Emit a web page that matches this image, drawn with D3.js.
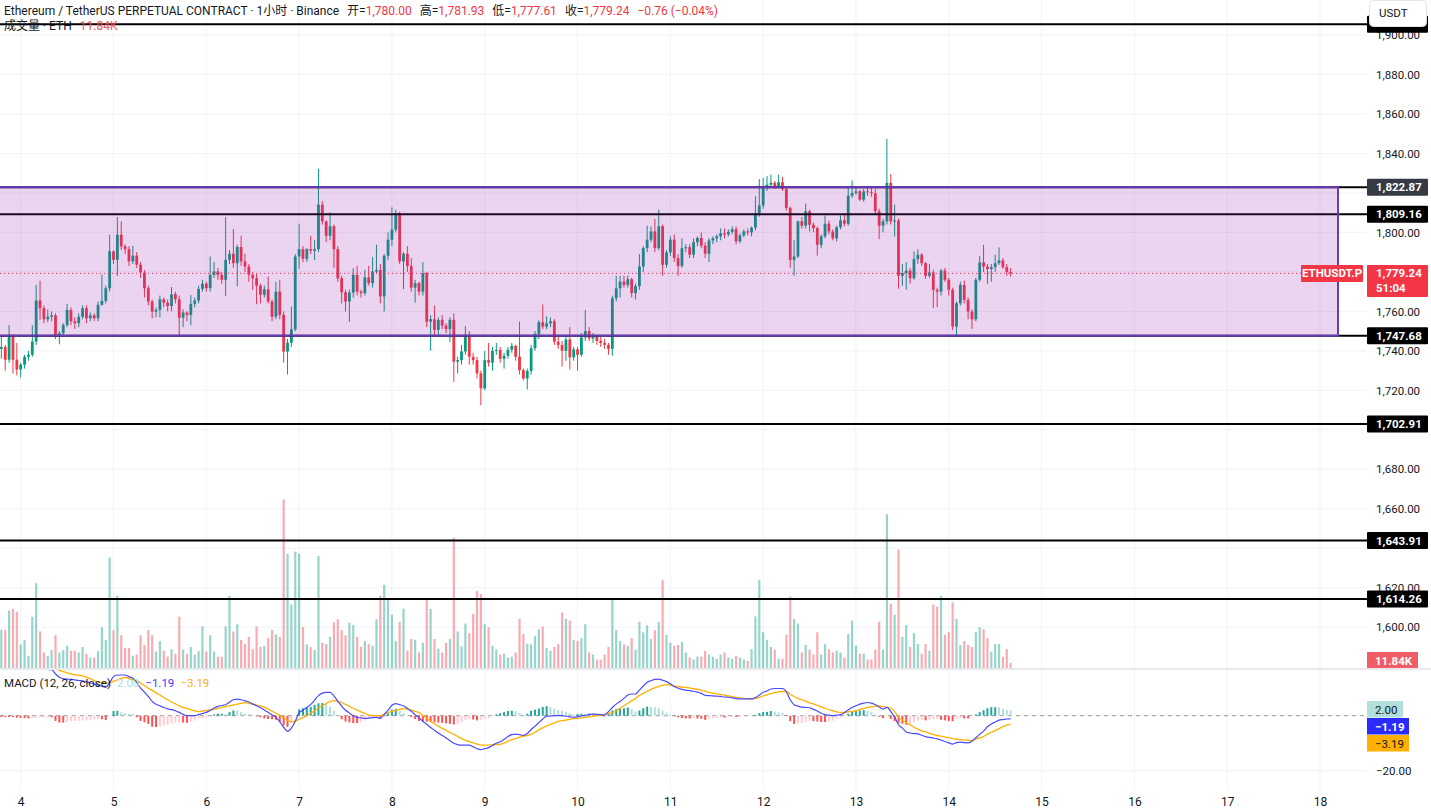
<!DOCTYPE html>
<html><head><meta charset="utf-8">
<script src="https://cdn.jsdelivr.net/npm/d3@7/dist/d3.min.js"></script>
<style>
html,body{margin:0;padding:0;background:#fff;}
svg{display:block;font-family:Roboto,"Noto Sans CJK SC",sans-serif;}
</style></head>
<body>
<svg id="c" width="1431" height="812"></svg>
<script>
// ---------------- DATA ----------------
const dayLabels = ["4","5","6","7","8","9","10","11","12","13","14","15","16","17","18"];
const firstHour = -5; // first candle = day 3, 19:00 (hours relative to day 4 00:00)
// [open, high, low, close] hourly candles
const ohlc = [
[1741,1748,1736,1742],[1742,1743,1730,1735.5],[1735.5,1753,1734,1747.5],[1747.5,1748.5,1728.5,1735.5],
[1735.5,1744,1727.5,1730.5],[1730.5,1734,1726.5,1733],[1733,1738,1731,1737],[1737,1740,1735,1738],
[1738,1753,1737,1744.7],[1744.7,1773.5,1743,1765.5],[1765.5,1775.5,1755.7,1761.6],[1761.6,1763,1754,1756],
[1756,1761,1754.5,1757.3],[1757.3,1760,1755,1758],[1758,1759,1746,1747.2],[1747.2,1750,1743.3,1748.9],
[1748.9,1754,1747,1753.1],[1753.1,1763.8,1752,1760.7],[1760.7,1762,1753,1755],[1755,1757,1751,1754],
[1754,1759,1752,1757.3],[1757.3,1763,1756,1761.6],[1761.6,1763,1754,1756.5],[1756.5,1759.5,1755,1758],
[1758,1759,1755,1756.5],[1756.5,1765,1755,1763.3],[1763.3,1778.5,1763,1765.3],[1765.3,1773,1764,1771.7],
[1771.7,1798.8,1770,1790.4],[1790.4,1791,1784,1786.1],[1786.1,1807.8,1778,1798.8],[1798.8,1805.6,1791,1792.9],
[1792.9,1794,1789,1791.5],[1791.5,1793,1783,1785.3],[1785.3,1793.2,1784,1788.2],[1788.2,1790,1782,1783.6],
[1783.6,1785,1777,1779.7],[1779.7,1781,1767,1771.7],[1771.7,1773,1763,1765],[1765,1766,1756.5,1759.9],
[1759.9,1762,1757,1760.7],[1760.7,1768,1757,1766.1],[1766.1,1767,1762,1764.4],[1764.4,1766,1760,1762.7],
[1762.7,1772.3,1760,1768.7],[1768.7,1770,1764,1766.1],[1766.1,1768,1748,1756.8],[1756.8,1761,1752,1759.4],
[1759.4,1760,1755,1758.2],[1758.2,1768.3,1753,1763.8],[1763.8,1767,1762,1765.5],[1765.5,1773,1764,1771.4],
[1771.4,1776,1770,1774],[1774,1775,1770,1771.8],[1771.8,1787.8,1770,1778.5],[1778.5,1785,1777,1780.2],
[1780.2,1782,1776,1778.5],[1778.5,1780,1774,1776],[1776,1807.8,1767.8,1786.1],[1786.1,1791,1784,1789.2],
[1789.2,1801.7,1782,1784.4],[1784.4,1793.8,1772.6,1792.6],[1792.6,1798.3,1783,1785.3],[1785.3,1789.2,1780,1782.7],
[1782.7,1784,1775,1778.5],[1778.5,1780,1770.9,1776.8],[1776.8,1779,1763.6,1773],[1773,1774,1764,1768.4],
[1768.4,1773,1767,1771.2],[1771.2,1777.7,1764,1765],[1765,1766,1755,1757.3],[1757.3,1775,1756,1770],
[1770,1776,1756,1758.2],[1758.2,1760,1734,1739.6],[1739.6,1746,1728,1744.1],[1744.1,1762.4,1742,1750.9],
[1750.9,1789,1750,1787.8],[1787.8,1804.4,1781.6,1791.5],[1791.5,1793,1785,1786.6],[1786.6,1792,1785,1791.5],
[1791.5,1798.3,1789,1790.7],[1790.7,1796,1786,1791.5],[1791.5,1832.2,1790,1814.1],[1814.1,1815.8,1804,1805.6],
[1805.6,1806,1795,1798.3],[1798.3,1810.2,1796,1803.1],[1803.1,1804,1782,1791.5],[1791.5,1793,1775,1776.8],
[1776.8,1778,1764,1769.7],[1769.7,1771,1760,1765],[1765,1771,1754.7,1769.5],[1769.5,1781.9,1767,1778.5],
[1778.5,1783,1768,1770],[1770,1771,1767,1769.2],[1769.2,1781,1768,1777.2],[1777.2,1783,1773,1774.3],
[1774.3,1787.5,1772,1780.2],[1780.2,1793.8,1779,1781],[1781,1784,1764,1767.6],[1767.6,1789,1759.9,1788.2],
[1788.2,1800,1786,1796.3],[1796.3,1812.7,1793,1801.4],[1801.4,1811.5,1800,1809.8],[1809.8,1810.5,1784,1785.3],
[1785.3,1790,1771.3,1789.2],[1789.2,1793,1780,1783],[1783,1787,1770,1772],[1772,1776,1764.4,1774.3],
[1774.3,1775,1768,1770],[1770,1785,1768,1779.4],[1779.4,1780,1752,1754.8],[1754.8,1758,1740.1,1756],
[1756,1763,1748,1750.6],[1750.6,1757,1748,1755.7],[1755.7,1758,1751,1752.8],[1752.8,1754,1749,1751],
[1751,1757,1744.5,1755.7],[1755.7,1759,1724.3,1734.5],[1734.5,1737,1728.5,1735.3],[1735.3,1743,1733,1739.7],
[1739.7,1752.5,1738,1747.2],[1747.2,1750,1733,1737],[1737,1739,1733,1735.3],[1735.3,1737,1726,1728.6],
[1728.6,1730,1712.5,1721],[1721,1740,1720,1735.3],[1735.3,1744,1732,1734],[1734,1742,1730,1740],
[1740,1744,1738,1740.5],[1740.5,1742,1734,1736],[1736,1739,1731,1737.5],[1737.5,1742,1736,1740.5],
[1740.5,1744,1739,1742.5],[1742.5,1743,1735,1737],[1737,1754.8,1728,1730.2],[1730.2,1731,1725,1726],
[1726,1731,1720.4,1729.8],[1729.8,1743,1728,1741.3],[1741.3,1750,1740,1748.6],[1748.6,1755.5,1746,1754.5],
[1754.5,1763.5,1751,1752.3],[1752.3,1757.5,1751,1753.9],[1753.9,1757,1752,1755],[1755,1756,1743,1744.6],
[1744.6,1748,1741,1743],[1743,1745,1732,1740],[1740,1747,1735,1745.8],[1745.8,1752,1730.5,1736.7],
[1736.7,1742,1735,1740.8],[1740.8,1742,1730,1738],[1738,1749,1737,1746.8],[1746.8,1760.7,1745,1750],
[1750,1752,1745,1746.3],[1746.3,1749,1744,1747],[1747,1748,1743,1745],[1745,1747,1742,1744],
[1744,1746,1741,1743],[1743,1744,1738,1741],[1741,1768,1737.5,1766.6],[1766.6,1778,1765,1771.7],
[1771.7,1778,1767,1775.1],[1775.1,1778,1772,1773.4],[1773.4,1778,1772,1776.3],[1776.3,1777,1767,1769.2],
[1769.2,1774,1766,1772.8],[1772.8,1789,1771,1782.7],[1782.7,1793,1780,1792],[1792,1803.4,1790,1796.3],
[1796.3,1803,1795,1800.5],[1800.5,1806.8,1790,1792],[1792,1811.5,1791,1803.1],[1803.1,1804,1778,1783.6],
[1783.6,1791,1782,1789.9],[1789.9,1798,1788,1796.3],[1796.3,1799,1785,1787],[1787,1789,1778,1783],
[1783,1797,1782,1792],[1792,1794,1790,1792.5],[1792.5,1794,1787,1788.7],[1788.7,1797,1787,1795],
[1795,1798,1793,1797.2],[1797.2,1800,1792,1793.3],[1793.3,1795,1787,1789.2],[1789.2,1797,1785,1795.9],
[1795.9,1798,1794,1797],[1797,1799,1795,1798],[1798,1802,1796,1799.6],[1799.6,1802,1797,1799],
[1799,1801.5,1798,1800.3],[1800.3,1803,1799,1801.6],[1801.6,1803,1794,1795.5],[1795.5,1799.5,1794.5,1798.5],
[1798.5,1801.5,1797.5,1800.5],[1800.5,1802,1798.5,1800],[1800,1803,1798,1802.4],[1802.4,1818.3,1801,1809.8],
[1809.8,1827,1808,1813.6],[1813.6,1827.6,1812,1822.5],[1822.5,1828.5,1821,1824.2],[1824.2,1829.3,1822.5,1825.1],
[1825.1,1826,1822,1823.4],[1823.4,1829.3,1822.5,1825.4],[1825.4,1828.1,1821,1822],[1822,1823,1811,1812.4],
[1812.4,1813,1782,1786.1],[1786.1,1796,1778,1787.8],[1787.8,1806,1787,1805.6],[1805.6,1807.8,1802,1803.4],
[1803.4,1814.6,1802,1810.7],[1810.7,1811.5,1800.5,1803.9],[1803.9,1805,1800,1802.2],[1802.2,1803,1788.2,1793.7],
[1793.7,1799,1792,1798],[1798,1808.5,1797,1804.4],[1804.4,1806,1799,1800.5],[1800.5,1801.5,1796,1797],
[1797,1803.5,1795.4,1802.6],[1802.6,1808.5,1801.5,1806.1],[1806.1,1809,1803,1804.4],[1804.4,1823,1803.5,1818.6],
[1818.6,1826.3,1817.5,1820],[1820,1823,1819,1820.8],[1820.8,1821.5,1816,1816.6],[1816.6,1822,1815.5,1820.8],
[1820.8,1823,1818.5,1820.3],[1820.3,1823,1818,1819.8],[1819.8,1822,1809.5,1810.7],[1810.7,1812,1796.6,1803.4],
[1803.4,1807,1800,1805.6],[1805.6,1847.4,1804,1825.1],[1825.1,1829.6,1804,1805.6],[1805.6,1814.1,1798,1806],
[1806,1807,1771.5,1778],[1778,1784,1773,1779.4],[1779.4,1785,1771,1780.7],[1780.7,1782,1774,1776.8],
[1776.8,1790.4,1776,1786.5],[1786.5,1791.5,1784,1788.7],[1788.7,1789.5,1783,1784.4],[1784.4,1785,1776.5,1778],
[1778,1784.1,1777,1779.7],[1779.7,1781,1761.6,1770.9],[1770.9,1772,1762.1,1770],[1770,1781.5,1768,1780.7],
[1780.7,1782,1775,1776],[1776,1777,1768,1770.9],[1770.9,1772,1750.5,1752.3],[1752.3,1765,1747.7,1764.1],
[1764.1,1775,1763,1773.4],[1773.4,1775.6,1764,1765.8],[1765.8,1767,1756,1759.9],[1759.9,1761,1751.1,1756],
[1756,1777,1755,1776],[1776,1788,1775,1784.8],[1784.8,1793.7,1780,1782.7],[1782.7,1784,1773.9,1781.4],
[1781.4,1784,1775,1782.4],[1782.4,1788.7,1780,1784.4],[1784.4,1792.4,1783.5,1785.8],[1785.8,1787,1781.5,1782.4],
[1782.4,1784,1778,1780],[1780,1781.93,1777.61,1779.24]
];
// hourly volume, thousands of ETH
const volumeK = [
91,91,137,141,134,56,67,29,122,202,87,37,29,43,78,37,43,53,41,41,37,50,34,25,25,40,97,67,263,90,
172,78,48,48,29,32,78,55,90,78,39,64,41,27,45,34,122,44,34,50,32,40,99,39,78,39,27,27,99,172,
87,104,67,57,74,45,99,50,53,71,90,80,74,401,272,151,277,272,97,56,50,43,267,60,57,74,109,116,90,78,
108,102,74,51,64,57,53,116,172,198,164,127,64,110,141,41,69,67,37,60,164,141,69,46,37,60,69,310,87,51,
106,83,129,183,176,104,97,53,44,32,34,25,27,37,117,81,58,56,76,92,99,48,41,50,57,132,117,113,67,64,
71,104,37,32,20,20,32,50,164,90,64,56,53,71,44,110,85,102,69,90,110,210,79,60,53,55,62,37,25,20,
27,27,41,32,27,22,32,37,25,22,29,25,20,17,45,123,210,85,67,50,44,22,22,79,170,117,106,37,55,44,
32,85,32,57,45,37,41,37,25,81,113,53,34,34,20,20,44,110,44,366,153,127,282,74,102,50,83,57,34,57,
41,151,146,172,79,85,156,117,55,64,55,50,85,97,92,71,39,57,57,27,45,11.84
];
const macdLine = [
19.0,18.8,18.6,18.4,18.0,17.7,17.4,17.1,17.0,17.0,16.9,16.9,16.8,16.7,15.2,14.0,13.5,13.3,13.2,13.0,
12.8,12.7,12.3,11.9,11.5,11.1,10.7,10.3,12.0,14.2,14.8,14.8,14.8,14.2,13.6,12.1,10.0,8.6,7.0,5.2,
4.2,3.6,3.0,2.5,2.2,1.8,1.2,0.5,0.0,0.0,0.0,0.4,0.8,1.2,1.9,2.8,3.4,3.7,4.0,4.9,
5.8,6.0,5.8,5.5,5.0,4.3,3.6,2.9,2.1,1.2,0.3,-0.6,-2.2,-4.2,-5.7,-4.5,-2.0,1.0,2.0,3.0,
4.1,5.7,7.3,8.2,8.5,8.5,7.2,5.3,3.5,2.0,1.0,0.0,-0.6,-0.8,-1.0,-0.9,-0.7,-0.6,-1.0,0.5,
2.0,3.8,4.4,4.0,3.6,2.6,1.6,0.4,-0.8,-2.0,-3.1,-4.3,-5.3,-6.3,-7.2,-8.1,-9.1,-10.0,-10.5,-10.7,
-10.7,-10.7,-11.3,-12.0,-12.3,-12.0,-11.6,-10.8,-10.0,-9.5,-8.6,-7.6,-6.9,-6.7,-6.9,-7.2,-6.5,-5.0,-3.8,-2.5,
-1.2,-0.2,-0.1,0.0,0.0,0.0,-0.2,-0.4,-0.6,-0.4,-0.1,0.1,0.4,0.6,0.5,0.4,0.2,1.5,3.0,4.2,
5.2,6.3,7.5,7.9,7.9,9.3,10.8,12.2,12.7,13.2,13.3,12.9,12.4,11.6,10.6,10.0,9.6,9.3,9.1,8.9,
8.6,8.1,7.4,7.3,7.2,7.1,7.0,6.8,6.7,6.5,6.2,6.1,6.1,6.1,6.1,6.6,7.5,8.5,9.0,9.7,
9.9,9.9,9.9,8.7,5.8,4.0,3.5,3.1,3.0,2.9,2.3,1.7,0.9,0.4,0.2,0.0,0.2,0.4,1.1,2.1,
3.0,3.6,4.2,4.6,4.8,4.6,4.0,3.2,2.4,3.0,1.5,-0.5,-3.3,-4.5,-5.9,-6.3,-6.5,-6.6,-7.1,-7.6,
-7.9,-8.1,-8.4,-8.9,-9.4,-9.9,-10.3,-9.8,-9.6,-9.8,-9.9,-9.2,-8.0,-6.8,-5.6,-4.0,-3.0,-2.3,-1.6,-1.4,
-1.2,-1.19
];
const signalLine = [
19.5,19.3,19.1,18.9,18.7,18.5,18.3,18.1,17.9,17.8,17.6,17.5,17.4,17.3,17.1,16.5,16.0,15.6,15.2,14.9,
14.7,14.5,14.0,13.4,12.8,12.2,12.0,11.9,12.1,12.5,13.0,13.5,13.9,13.6,13.0,12.7,11.9,11.0,10.0,9.2,
8.3,7.5,6.6,5.8,5.0,4.3,3.6,3.0,2.6,2.2,1.8,1.5,1.7,1.9,2.1,2.3,2.7,3.0,3.3,3.6,
3.9,4.2,4.5,4.8,4.5,4.1,3.8,3.5,3.1,2.4,1.6,0.9,0.2,-0.7,-1.6,-2.3,-2.0,-1.3,-0.7,0.0,
0.9,1.8,2.8,3.6,4.4,5.2,5.5,5.1,4.8,4.1,3.4,2.7,2.1,1.4,0.8,0.2,0.1,0.0,0.0,0.5,
1.1,1.6,1.9,2.3,2.6,2.5,2.0,1.6,1.1,0.1,-0.9,-2.0,-2.9,-3.8,-4.6,-5.3,-6.1,-6.8,-7.5,-8.3,
-9.0,-9.4,-9.9,-10.3,-10.7,-10.7,-10.7,-10.6,-10.5,-10.4,-9.9,-9.3,-8.7,-8.3,-7.9,-7.4,-7.2,-6.8,-6.0,-5.1,
-4.4,-3.7,-3.2,-2.6,-2.1,-1.8,-1.6,-1.3,-1.1,-1.0,-0.8,-0.6,-0.4,-0.2,0.0,0.2,0.5,0.8,1.1,1.8,
2.7,3.6,4.5,5.4,6.3,7.4,8.1,8.9,9.6,10.2,10.6,11.0,11.3,11.1,10.8,10.6,10.4,10.3,10.1,9.8,
9.6,9.2,8.9,8.5,8.2,7.9,7.7,7.5,7.2,6.9,6.7,6.5,6.3,6.2,6.1,6.3,6.6,7.2,7.6,8.0,
8.4,8.7,8.8,8.8,7.8,7.0,6.3,5.8,5.3,4.7,4.3,3.8,3.2,2.7,2.2,1.8,1.4,1.2,1.2,1.4,
1.6,1.8,2.3,2.6,3.0,3.2,3.5,3.6,3.3,3.1,2.7,1.5,-0.6,-1.6,-2.6,-3.3,-4.2,-4.9,-5.5,-5.9,
-6.4,-6.8,-7.2,-7.4,-7.7,-8.0,-8.3,-8.5,-8.7,-8.8,-8.9,-9.1,-8.5,-8.1,-7.6,-6.7,-6.1,-5.4,-4.7,-4.0,
-3.4,-3.19
];
const priceTicks = [1600,1620,1640,1660,1680,1700,1720,1740,1760,1780,1800,1820,1840,1860,1880,1900];
const levelLines = [1905.4, 1822.87, 1809.16, 1747.68, 1702.91, 1643.91, 1614.26];
const hiddenTagLevel = 1905.4; // its tag sits under the currency box, no readable text
const zoneTop = 1822.87, zoneBottom = 1747.68;
const lastPrice = 1779.24, countdown = "51:04", symbol = "ETHUSDT.P";
const macdTicks = [-20];

// ---------------- LAYOUT ----------------
const W = 1431, H = 812;
const plotR = 1367;
const mainBottom = 669;
const macdBottom = 790;
const svg = d3.select("#c");
const UP = "#089981", DN = "#F23645";
const TXT = "#131722", GRID = "#F0F3FA";

const x = d3.scaleLinear().domain([0, 336]).range([20.7, 1320]); // hours from day 4 00:00
const y = d3.scaleLinear().domain([1600, 1900]).range([627.2, 35]);
const yVol = d3.scaleLinear().domain([0, 400]).range([668, 500]);
const yM = d3.scaleLinear().domain([-20, 0]).range([770.7, 715.7]);
const xi = i => x(firstHour + i);

const candles = ohlc.map((d, i) => ({i, o:d[0], h:d[1], l:d[2], c:d[3], v:volumeK[i], up:d[3] >= d[0]}));

const defs = svg.append("defs");
defs.append("clipPath").attr("id","cMain").append("rect").attr("x",0).attr("y",0).attr("width",plotR).attr("height",mainBottom);
defs.append("clipPath").attr("id","cMacd").append("rect").attr("x",0).attr("y",mainBottom+1).attr("width",plotR).attr("height",macdBottom-mainBottom-1);

// grid
const dayHours = dayLabels.map((d, k) => k*24);
const grid = svg.append("g");
grid.selectAll("line.v").data(dayHours).join("line")
  .attr("x1", d=>x(d)).attr("x2", d=>x(d)).attr("y1", 0).attr("y2", macdBottom)
  .attr("stroke", GRID).attr("stroke-width", 1);
grid.selectAll("line.h").data(priceTicks).join("line")
  .attr("x1", 0).attr("x2", plotR).attr("y1", d=>y(d)).attr("y2", d=>y(d))
  .attr("stroke", GRID).attr("stroke-width", 1);
grid.selectAll("line.m").data(macdTicks).join("line")
  .attr("x1", 0).attr("x2", plotR).attr("y1", d=>yM(d)).attr("y2", d=>yM(d))
  .attr("stroke", GRID).attr("stroke-width", 1);

// main pane
const main = svg.append("g").attr("clip-path","url(#cMain)");
main.append("g").selectAll("rect").data(candles).join("rect")
  .attr("x", d=>xi(d.i)-1.1).attr("width", 2.2)
  .attr("y", d=>yVol(d.v)).attr("height", d=>yVol(0)-yVol(d.v))
  .attr("fill", d=>d.up ? "rgba(8,153,129,0.42)" : "rgba(242,54,69,0.42)");
const cg = main.append("g");
cg.selectAll("line").data(candles).join("line")
  .attr("x1", d=>xi(d.i)).attr("x2", d=>xi(d.i))
  .attr("y1", d=>y(d.h)).attr("y2", d=>y(d.l))
  .attr("stroke", d=>d.up?UP:DN).attr("stroke-width", 1);
cg.selectAll("rect").data(candles).join("rect")
  .attr("x", d=>xi(d.i)-1.4).attr("width", 2.8)
  .attr("y", d=>y(Math.max(d.o,d.c)))
  .attr("height", d=>Math.max(1, Math.abs(y(d.o)-y(d.c))))
  .attr("fill", d=>d.up?UP:DN);

main.append("line").attr("x1",0).attr("x2",1301).attr("y1",y(lastPrice)).attr("y2",y(lastPrice))
  .attr("stroke",DN).attr("stroke-width",1).attr("stroke-dasharray","1,3");

main.append("g").selectAll("line").data(levelLines).join("line")
  .attr("x1",0).attr("x2",plotR).attr("y1",d=>y(d)).attr("y2",d=>y(d))
  .attr("stroke","#000").attr("stroke-width",2);
main.append("rect").attr("x",-5).attr("y",y(zoneTop)).attr("width",1338+5)
  .attr("height",y(zoneBottom)-y(zoneTop))
  .attr("fill","rgba(156,39,176,0.2)").attr("stroke","#673AB7").attr("stroke-width",2);

svg.append("line").attr("x1",0).attr("x2",W).attr("y1",mainBottom).attr("y2",mainBottom)
  .attr("stroke","#D1D4DC").attr("stroke-width",1);

// ---------------- MACD pane ----------------
const hist = macdLine.map((m,i)=>m - signalLine[i]);
const mg = svg.append("g").attr("clip-path","url(#cMacd)");
mg.append("line").attr("x1",0).attr("x2",plotR).attr("y1",yM(0)).attr("y2",yM(0))
  .attr("stroke","#9598A1").attr("stroke-width",1).attr("stroke-dasharray","4,4");
mg.append("g").selectAll("rect").data(hist).join("rect")
  .attr("x",(d,i)=>xi(i)-1).attr("width",2)
  .attr("y",d=>Math.min(yM(d),yM(0))).attr("height",d=>Math.abs(yM(d)-yM(0)))
  .attr("fill",(d,i)=>{
    const p = i>0 ? hist[i-1] : d;
    if (d >= 0) return p < d ? "#26A69A" : "#B2DFDB";
    return p < d ? "#FFCDD2" : "#FF5252";
  });
const lineGen = d3.line().x((d,i)=>xi(i)).y(d=>yM(d)).curve(d3.curveMonotoneX);
mg.append("path").datum(signalLine).attr("d",lineGen).attr("fill","none")
  .attr("stroke","#FFB000").attr("stroke-width",1.3);
mg.append("path").datum(macdLine).attr("d",lineGen).attr("fill","none")
  .attr("stroke","#4A4AFF").attr("stroke-width",1.2);

// ---------------- Axes ----------------
const tagPrices = levelLines.filter(p => p !== hiddenTagLevel).concat([lastPrice]);
const visibleTicks = priceTicks.filter(t => tagPrices.every(p => Math.abs(y(p) - y(t)) > 9.5));
const yAxis = d3.axisRight(y).tickValues(visibleTicks).tickFormat(d3.format(",.2f")).tickSize(0).tickPadding(9);
const ya = svg.append("g").attr("transform",`translate(${plotR},0)`).call(yAxis);
ya.select(".domain").remove();
ya.selectAll("text").attr("fill",TXT).style("font-size","11.5px").style("font-family","Roboto,sans-serif");

const mAxis = d3.axisRight(yM).tickValues(macdTicks).tickFormat(d3.format(",.2f")).tickSize(0).tickPadding(9);
const ma = svg.append("g").attr("transform",`translate(${plotR},0)`).call(mAxis);
ma.select(".domain").remove();
ma.selectAll("text").attr("fill",TXT).style("font-size","11.5px").style("font-family","Roboto,sans-serif")
  .text(d=>d3.format(",.2f")(d).replace("-","−"));

const xAxis = d3.axisBottom(x).tickValues(dayHours).tickFormat((d,k)=>dayLabels[k]).tickSize(0).tickPadding(0);
const xa = svg.append("g").attr("transform",`translate(0,797)`).call(xAxis);
xa.select(".domain").remove();
xa.selectAll("text").attr("fill",TXT).style("font-size","12px").style("font-family","Roboto,sans-serif");

// ---------------- price scale labels ----------------
function tag(val, fill, txt, txtFill, w, h) {
  const cy = y(val);
  svg.append("rect").attr("x",plotR).attr("y",cy-h/2).attr("width",w).attr("height",h).attr("fill",fill).attr("rx",1);
  if (txt) svg.append("text").attr("x",plotR+9).attr("y",cy+4).attr("fill",txtFill)
    .style("font-size","11.5px").style("font-weight","bold").text(txt);
}
levelLines.forEach(v=>{
  tag(v, v===zoneTop ? "#363A45" : "#000", v===hiddenTagLevel ? "" : d3.format(",.2f")(v), "#fff", 61, 17);
});
{
  const cy = y(lastPrice);
  svg.append("rect").attr("x",plotR).attr("y",cy-8.5).attr("width",61).attr("height",32).attr("fill",DN).attr("rx",1);
  svg.append("text").attr("x",plotR+9).attr("y",cy+4).attr("fill","#fff").style("font-size","11.5px").style("font-weight","bold")
    .text(d3.format(",.2f")(lastPrice));
  svg.append("text").attr("x",plotR+9).attr("y",cy+19).attr("fill","#fff").style("font-size","11.5px").style("font-weight","bold")
    .text(countdown);
  svg.append("rect").attr("x",1301).attr("y",cy-8.5).attr("width",62).attr("height",17).attr("fill",DN).attr("rx",1);
  svg.append("text").attr("x",1332).attr("y",cy+4).attr("text-anchor","middle").attr("fill","#fff")
    .style("font-size","11.5px").style("font-weight","bold").text(symbol);
}
{
  const v = volumeK[volumeK.length-1];
  svg.append("rect").attr("x",plotR).attr("y",652).attr("width",51).attr("height",16).attr("fill","#F05D66");
  svg.append("text").attr("x",plotR+8).attr("y",664.5).attr("fill","#fff").style("font-size","11.5px").style("font-weight","bold")
    .text(v.toFixed(2)+"K");
}
{
  const h = hist[hist.length-1], m = macdLine[macdLine.length-1], s = signalLine[signalLine.length-1];
  const fmt = v => (v<0?"−":"") + Math.abs(v).toFixed(2);
  const tags = [[h,"#B2DFDB",TXT,36,701],[m,"#2B2BFF","#fff",42,718],[s,"#FFB000",TXT,42,735]];
  tags.forEach(([v,f,tf,w,top])=>{
    svg.append("rect").attr("x",plotR).attr("y",top).attr("width",w).attr("height",16.5).attr("fill",f);
    svg.append("text").attr("x",plotR+8).attr("y",top+12.5).attr("fill",tf).style("font-size","11.5px")
      .style("font-weight", tf==="#fff"?"bold":"normal").text(fmt(v));
  });
}
svg.append("rect").attr("x",1369.5).attr("y",0.5).attr("width",57).attr("height",26).attr("rx",4)
  .attr("fill","#fff").attr("stroke","#E0E3EB");
svg.append("text").attr("x",1379).attr("y",17).attr("fill",TXT).style("font-size","11.5px").text("USDT");

// ---------------- Legends ----------------
const last = candles[candles.length-1];
const prev = candles[candles.length-2];
const f2 = d3.format(",.2f");
const chg = last.c - prev.c;
const hdr = svg.append("text").attr("x",4).attr("y",15).style("font-size","12px");
hdr.append("tspan").attr("fill",TXT).text("Ethereum / TetherUS PERPETUAL CONTRACT · 1小时 · Binance");
[["开",last.o],["高",last.h],["低",last.l],["收",last.c]].forEach(([k,v])=>{
  hdr.append("tspan").attr("dx",8).attr("fill",TXT).text(k+"=");
  hdr.append("tspan").attr("fill",DN).text(f2(v));
});
hdr.append("tspan").attr("dx",8).attr("fill",DN)
  .text("−" + Math.abs(chg).toFixed(2) + " (−" + Math.abs(chg/prev.c*100).toFixed(2) + "%)");
const vl = svg.append("text").attr("x",4).attr("y",30).style("font-size","12px");
vl.append("tspan").attr("fill",TXT).text("成交量 · ETH");
vl.append("tspan").attr("dx",8).attr("fill","#F7525F").text(last.v.toFixed(2)+"K");

const ml = svg.append("text").attr("x",4).attr("y",687).style("font-size","11.5px");
ml.append("tspan").attr("fill",TXT).text("MACD (12, 26, close)");
ml.append("tspan").attr("dx",6).attr("fill","#B2DFDB").text(hist[hist.length-1].toFixed(2));
ml.append("tspan").attr("dx",6).attr("fill","#3B3BFF").text("−"+Math.abs(macdLine[macdLine.length-1]).toFixed(2));
ml.append("tspan").attr("dx",6).attr("fill","#FFB000").text("−"+Math.abs(signalLine[signalLine.length-1]).toFixed(2));
</script>
</body></html>
